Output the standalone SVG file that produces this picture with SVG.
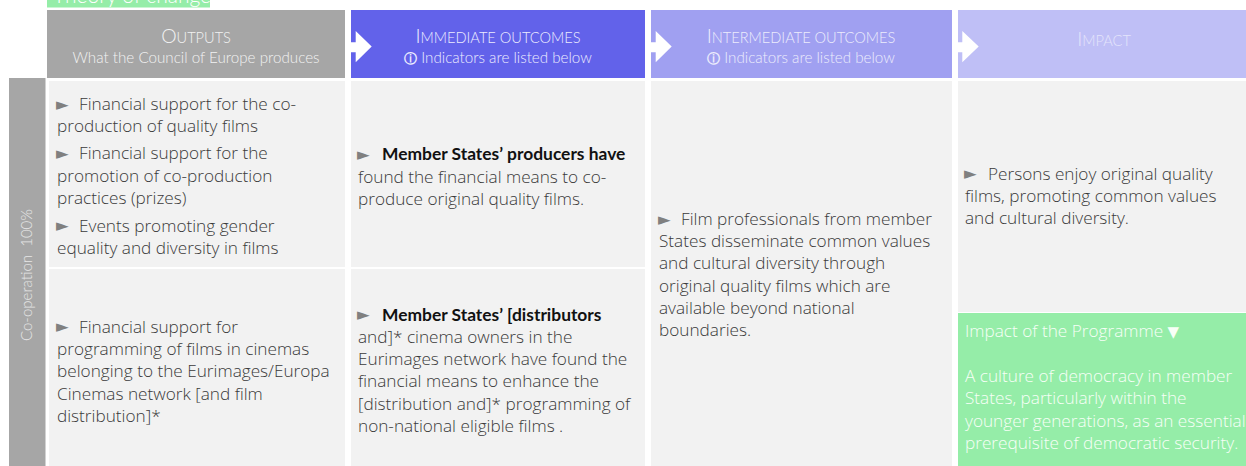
<svg xmlns="http://www.w3.org/2000/svg" width="1246" height="466" viewBox="0 0 1246 466">
<style>
.hdr-t{font-family:Lato,"Open Sans",sans-serif;font-weight:300;text-anchor:middle}
.big{font-size:19.5px}
.sm{font-size:14.6px}
.sub{font-family:Lato,"Open Sans",sans-serif;font-weight:300;font-size:15.2px;text-anchor:middle}
.info{font-family:"DejaVu Sans",sans-serif;font-weight:700;font-size:13px}
.body{font-family:"Open Sans",Lato,sans-serif;font-weight:300;font-size:17.2px;fill:#3a3a3a}
.b{font-family:Lato,"Open Sans",sans-serif;font-weight:700;font-size:17.4px;fill:#111}
.tri{font-family:"DejaVu Sans",sans-serif;font-size:16.5px;fill:#808080}
.cell{fill:#f2f2f2}
.arrow{fill:#ffffff}
.green{fill:#95eda8}
.wt{font-family:"Open Sans",Lato,sans-serif;font-size:17.2px;font-weight:300;fill:#f7fff7}
.dn{font-family:"DejaVu Sans",sans-serif;font-size:15px;font-weight:400}
</style>
<rect width="1246" height="466" fill="#ffffff"/>

<g id="title-label">
<rect class="green" x="47" y="0" width="163" height="7.5"/>
<text x="53" y="2.5" style="font-family:Lato,'Open Sans',sans-serif;font-size:21px;font-weight:300;fill:#ffffff">Theory of change</text>
</g>

<g id="side-bar">
<rect x="9" y="78" width="36.5" height="388" fill="#a6a6a6"/>
<text transform="translate(32,275) rotate(-90)" text-anchor="middle" xml:space="preserve" style="font-family:Lato,'Open Sans',sans-serif;font-size:15px;font-weight:300;fill:#e6e6e6">Co-operation  100%</text>
</g>

<g id="hdr-outputs">
<rect x="47" y="10" width="298" height="68" fill="#a6a6a6"/>
<text class="hdr-t" x="196" y="43" fill="#f2f2f2"><tspan class="big">O</tspan><tspan class="sm">UTPUTS</tspan></text>
<text class="sub" x="196" y="63" fill="#f2f2f2">What the Council of Europe produces</text>
</g>

<g id="hdr-immediate">
<rect x="351" y="10" width="294" height="68" fill="#6262ea"/>
<text class="hdr-t" x="498" y="43" fill="#ececff"><tspan class="big">I</tspan><tspan class="sm">MMEDIATE OUTCOMES</tspan></text>
<text class="sub" x="498" y="63" fill="#ececff"><tspan class="info">ⓘ</tspan> Indicators are listed below</text>
</g>

<g id="hdr-intermediate">
<rect x="651" y="10" width="301" height="68" fill="#a0a0f1"/>
<text class="hdr-t" x="801" y="43" fill="#ececfc"><tspan class="big">I</tspan><tspan class="sm">NTERMEDIATE OUTCOMES</tspan></text>
<text class="sub" x="801" y="63" fill="#ececfc"><tspan class="info">ⓘ</tspan> Indicators are listed below</text>
</g>

<g id="hdr-impact">
<rect x="958" y="10" width="288" height="68" fill="#bfbff6"/>
<text class="hdr-t" x="1104" y="46" fill="#e4e4fb"><tspan class="big">I</tspan><tspan class="sm">MPACT</tspan></text>
</g>

<g id="connectors">
<path class="arrow" d="M345,42.3 H355.7 V31 L371.7,46.5 L355.7,62.3 V52.3 H345 Z"/>
<path class="arrow" d="M645,42.3 H655.7 V31 L671.7,46.5 L655.7,62.3 V52.3 H645 Z"/>
<path class="arrow" d="M952,42.3 H962.3 V31 L978.7,46.5 L962.3,62.3 V52.3 H952 Z"/>
</g>

<g id="out-1">
<rect class="cell" x="49" y="81" width="296" height="186"/>
<text class="tri" x="56" y="109.5">►</text>
<text class="body"><tspan x="79" y="110">Financial support for the co-</tspan><tspan x="57" y="132">production of quality films</tspan></text>
<text class="tri" x="56" y="158.5">►</text>
<text class="body"><tspan x="79" y="159">Financial support for the</tspan><tspan x="57" y="181.5">promotion of co-production</tspan><tspan x="57" y="204">practices (prizes)</tspan></text>
<text class="tri" x="56" y="231">►</text>
<text class="body"><tspan x="79" y="231.5">Events promoting gender</tspan><tspan x="57" y="254">equality and diversity in films</tspan></text>
</g>

<g id="out-2">
<rect class="cell" x="49" y="269" width="296" height="197"/>
<text class="tri" x="56" y="332">►</text>
<text class="body"><tspan x="79" y="332.5">Financial support for</tspan><tspan x="57" y="355">programming of films in cinemas</tspan><tspan x="57" y="377">belonging to the Eurimages/Europa</tspan><tspan x="57" y="399.5">Cinemas network [and film</tspan><tspan x="57" y="422">distribution]*</tspan></text>
</g>

<g id="imm-1">
<rect class="cell" x="351" y="81" width="294" height="186"/>
<text class="tri" x="357" y="159.5">►</text>
<text class="body"><tspan class="b" x="382" y="160">Member States’ producers have</tspan><tspan x="358" y="182.5">found the financial means to co-</tspan><tspan x="358" y="204.5">produce original quality films.</tspan></text>
</g>

<g id="imm-2">
<rect class="cell" x="351" y="269" width="294" height="197"/>
<text class="tri" x="357" y="320">►</text>
<text class="body"><tspan class="b" x="382" y="320.5">Member States’ [distributors</tspan><tspan x="358" y="343">and]* cinema owners in the</tspan><tspan x="358" y="365">Eurimages network have found the</tspan><tspan x="358" y="387">financial means to enhance the</tspan><tspan x="358" y="409.5">[distribution and]* programming of</tspan><tspan x="358" y="431.5">non-national eligible films .</tspan></text>
</g>

<g id="intermediate">
<rect class="cell" x="651" y="81" width="301" height="385"/>
<text class="tri" x="658" y="224.5">►</text>
<text class="body"><tspan x="681" y="225">Film professionals from member</tspan><tspan x="659" y="247">States disseminate common values</tspan><tspan x="659" y="269">and cultural diversity through</tspan><tspan x="659" y="291.5">original quality films which are</tspan><tspan x="659" y="313.5">available beyond national</tspan><tspan x="659" y="336">boundaries.</tspan></text>
</g>

<g id="impact">
<rect class="cell" x="958" y="81" width="288" height="231"/>
<text class="tri" x="964" y="179">►</text>
<text class="body"><tspan x="988" y="179.5">Persons enjoy original quality</tspan><tspan x="965" y="201.5">films, promoting common values</tspan><tspan x="965" y="223.5">and cultural diversity.</tspan></text>
</g>

<g id="programme-impact">
<rect class="green" x="958" y="313" width="288" height="153"/>
<text class="wt"><tspan x="965" y="336.5">Impact of the Programme <tspan class="dn">▼</tspan></tspan><tspan x="965" y="381.5">A culture of democracy in member</tspan><tspan x="965" y="404">States, particularly within the</tspan><tspan x="965" y="426.5">younger generations, as an essential</tspan><tspan x="965" y="449">prerequisite of democratic security.</tspan></text>
</g>
</svg>
